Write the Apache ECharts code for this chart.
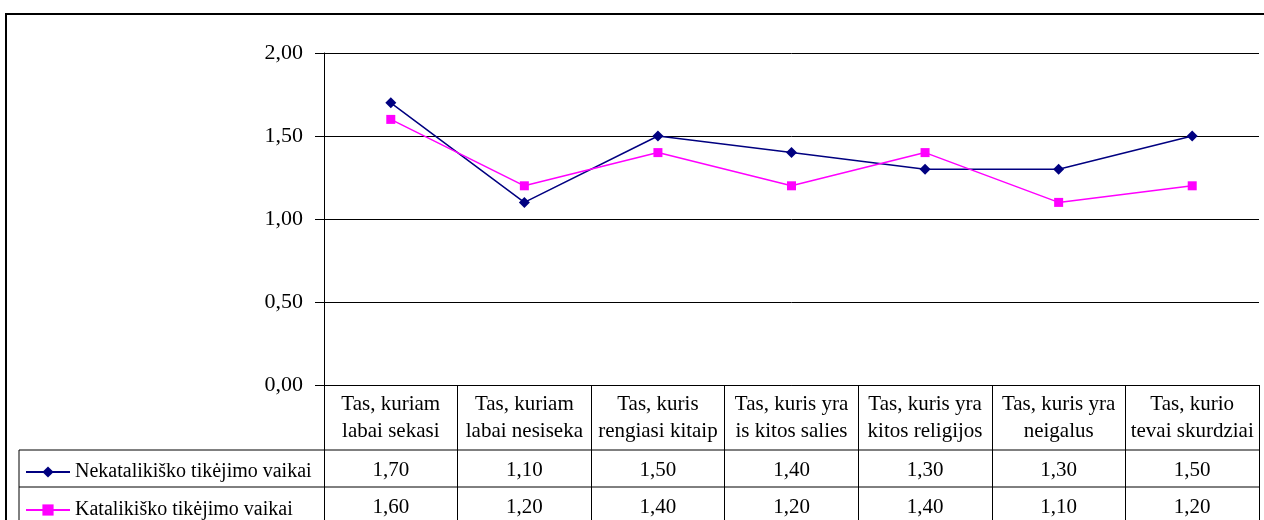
<!DOCTYPE html>
<html>
<head>
<meta charset="utf-8">
<script src="https://cdn.jsdelivr.net/npm/echarts@6/dist/echarts.min.js"></script>
<style>
  html, body { margin: 0; padding: 0; background: #fff; }
  #chart { width: 1264px; height: 520px; }
</style>
</head>
<body>
<div id="chart"></div>
<script>
// Duomenys
const categories = [
  'Tas, kuriam\nlabai sekasi',
  'Tas, kuriam\nlabai nesiseka',
  'Tas, kuris\nrengiasi kitaip',
  'Tas, kuris yra\nis kitos salies',
  'Tas, kuris yra\nkitos religijos',
  'Tas, kuris yra\nneigalus',
  'Tas, kurio\ntevai skurdziai'
]
const nekatalikiskoName = 'Nekatalikiško tikėjimo vaikai'
const katalikiskoName = 'Katalikiško tikėjimo vaikai'
const nekatalikisko = [1.70, 1.10, 1.50, 1.40, 1.30, 1.30, 1.50]
const katalikisko = [1.60, 1.20, 1.40, 1.20, 1.40, 1.10, 1.20]
const yTicks = [0, 0.5, 1, 1.5, 2]

const fmt = v => v.toFixed(2).replace('.', ',')
const font = '"Liberation Serif", "Times New Roman", serif'

// Išdėstymas
const plotLeft = 324
const plotTop = 53
const plotW = 935
const plotH = 332
const plotBottom = plotTop + plotH
const row1Offset = 65
const row2Offset = 102
const row1 = plotBottom + row1Offset
const row2 = plotBottom + row2Offset
const tableLeft = 19

const chart = echarts.init(document.getElementById('chart'))

const rowAxis = (values, offset) => ({
  type: 'category',
  gridIndex: 0,
  position: 'bottom',
  offset: offset,
  data: values.map(fmt),
  axisLine: { show: false },
  axisTick: { show: false },
  axisLabel: { color: '#000', fontSize: 21, fontFamily: font, margin: 10, interval: 0 }
})

const legendRow = (name, top) => ({
  orient: 'horizontal',
  left: 20,
  top: top,
  itemWidth: 44,
  itemHeight: 14,
  itemGap: 0,
  textStyle: { color: '#000', fontSize: 20, fontFamily: font, lineHeight: 14 },
  data: [name]
})

const line = (x1, y1, x2, y2) => ({
  type: 'line',
  silent: true,
  shape: { x1, y1, x2, y2 },
  style: { stroke: '#000', lineWidth: 1 }
})

chart.setOption({
  animation: false,
  backgroundColor: '#fff',
  grid: { left: plotLeft, top: plotTop, width: plotW, height: plotH, containLabel: false },
  legend: [
    legendRow(nekatalikiskoName, row1 + 7),
    legendRow(katalikiskoName, row2 + 8)
  ],
  xAxis: [
    {
      type: 'category',
      data: categories,
      boundaryGap: true,
      axisLine: { show: true, lineStyle: { color: '#000', width: 1 } },
      axisTick: { show: true, length: 135, alignWithLabel: false, lineStyle: { color: '#000', width: 1 } },
      axisLabel: { color: '#000', fontSize: 21, fontFamily: font, lineHeight: 27, margin: 6, interval: 0 }
    },
    rowAxis(nekatalikisko, row1Offset),
    rowAxis(katalikisko, row2Offset)
  ],
  yAxis: {
    type: 'value',
    min: yTicks[0],
    max: yTicks[yTicks.length - 1],
    interval: 0.5,
    axisLine: { show: true, lineStyle: { color: '#000', width: 1 } },
    axisTick: { show: true, length: 9, lineStyle: { color: '#000', width: 1 } },
    axisLabel: { color: '#000', fontSize: 22, fontFamily: font, margin: 21, formatter: fmt },
    splitLine: { show: true, lineStyle: { color: '#000', width: 1 } }
  },
  series: [
    {
      name: nekatalikiskoName,
      type: 'line',
      data: nekatalikisko,
      symbol: 'diamond',
      symbolSize: 11,
      color: '#000080',
      lineStyle: { width: 1.5, color: '#000080' },
      itemStyle: { color: '#000080' }
    },
    {
      name: katalikiskoName,
      type: 'line',
      data: katalikisko,
      symbol: 'rect',
      symbolSize: 9,
      color: '#ff00ff',
      lineStyle: { width: 1.5, color: '#ff00ff' },
      itemStyle: { color: '#ff00ff' }
    }
  ],
  graphic: [
    {
      type: 'rect',
      silent: true,
      shape: { x: 6, y: 14, width: 1300, height: 600 },
      style: { fill: 'none', stroke: '#000', lineWidth: 2 }
    },
    line(tableLeft, row1, plotLeft + plotW, row1),
    line(tableLeft, row2, plotLeft + plotW, row2),
    line(tableLeft, row1, tableLeft, 520)
  ]
})
</script>
</body>
</html>
